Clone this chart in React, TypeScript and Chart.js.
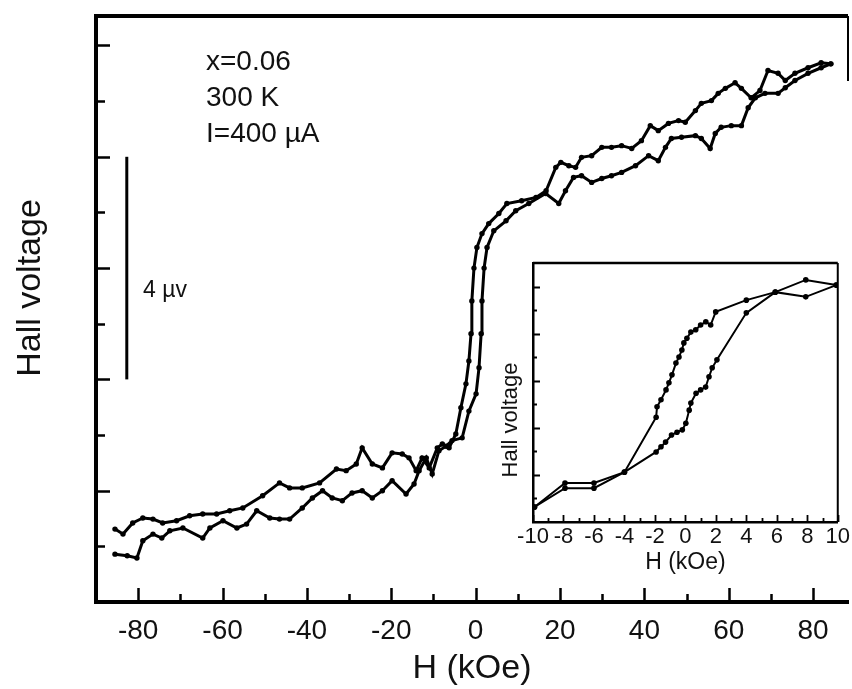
import React, { useEffect, useRef } from 'react';
import { Chart, registerables } from 'chart.js';
Chart.register(...registerables);

const FONT = "'Liberation Sans', Arial, Helvetica, sans-serif";
const INK = '#111';

// ---------- main panel data (H in kOe, Hall voltage in arbitrary units) ----------
const DESC_H = [-85.5, -83.6, -81.3, -78.9, -76.5, -74.2, -70.9, -67.8, -64.7, -61.4, -58.3, -55.2, -50.5, -46.5, -44.1, -41.1, -37.0, -33.0, -30.7, -28.3, -26.9, -24.5, -22.1, -19.8, -17.4, -15.8, -14.1, -12.7, -11.0, -9.1, -7.9, -6.3, -4.7, -3.5, -2.3, -1.6, -1.1, -0.9, -0.4, 0.3, 1.5, 3.1, 5.5, 7.4, 10.9, 14.3, 16.7, 19.0, 20.2, 22.1, 23.7, 25.1, 27.5, 29.9, 32.2, 34.6, 37.0, 39.3, 41.4, 43.3, 45.7, 48.1, 49.7, 52.1, 53.5, 55.9, 57.5, 59.2, 61.5, 63.0, 65.3, 67.4, 69.3, 71.7, 73.4, 75.7, 78.8, 81.9, 84.2];
const DESC_V = [1.31, 1.22, 1.42, 1.51, 1.49, 1.42, 1.46, 1.55, 1.58, 1.58, 1.64, 1.69, 1.91, 2.14, 2.05, 2.05, 2.14, 2.39, 2.36, 2.48, 2.77, 2.48, 2.41, 2.68, 2.66, 2.59, 2.36, 2.59, 2.41, 2.77, 2.84, 2.77, 3.02, 3.49, 3.92, 4.33, 4.82, 5.41, 6.0, 6.37, 6.62, 6.8, 6.98, 7.16, 7.21, 7.27, 7.39, 7.81, 7.9, 7.84, 7.81, 7.99, 8.02, 8.17, 8.17, 8.2, 8.15, 8.29, 8.56, 8.47, 8.6, 8.65, 8.62, 8.83, 8.96, 9.01, 9.14, 9.23, 9.33, 9.23, 9.06, 9.19, 9.55, 9.5, 9.37, 9.5, 9.6, 9.69, 9.67];
const ASC_H = [-85.5, -82.6, -80.3, -78.9, -76.5, -74.4, -72.5, -69.4, -64.7, -63.0, -59.9, -56.6, -54.3, -51.9, -48.8, -46.5, -44.1, -41.1, -38.7, -36.3, -34.0, -31.6, -29.3, -26.9, -24.5, -22.1, -19.8, -16.5, -14.6, -13.4, -11.7, -10.3, -8.7, -7.0, -5.6, -3.2, -1.6, 0.1, 0.8, 1.3, 1.5, 2.0, 2.7, 4.3, 7.2, 9.5, 12.6, 16.6, 19.7, 21.3, 23.2, 25.1, 27.5, 29.9, 32.2, 34.6, 37.9, 41.0, 43.3, 45.0, 46.4, 48.8, 52.1, 53.5, 55.6, 56.8, 58.2, 60.6, 63.0, 64.6, 66.3, 68.6, 71.7, 73.4, 75.7, 78.8, 81.9, 84.2];
const ASC_V = [0.86, 0.83, 0.79, 1.1, 1.22, 1.15, 1.28, 1.33, 1.15, 1.33, 1.46, 1.33, 1.4, 1.64, 1.51, 1.49, 1.49, 1.69, 1.87, 2.0, 1.87, 1.82, 1.96, 2.0, 1.87, 2.0, 2.18, 1.94, 2.12, 2.36, 2.59, 2.3, 2.72, 2.8, 2.9, 2.95, 3.43, 3.74, 4.21, 4.82, 5.41, 6.0, 6.37, 6.67, 6.85, 7.03, 7.16, 7.34, 7.16, 7.39, 7.63, 7.66, 7.54, 7.61, 7.66, 7.72, 7.84, 8.02, 7.93, 8.17, 8.33, 8.35, 8.38, 8.33, 8.15, 8.42, 8.53, 8.56, 8.56, 8.88, 9.06, 9.14, 9.14, 9.24, 9.37, 9.5, 9.6, 9.67];

const X_TICKS = [-80, -60, -40, -20, 0, 20, 40, 60, 80];
const X_MINOR = [-70, -50, -30, -10, 10, 30, 50, 70];
const Y_MAJOR = [2, 4, 6, 8, 10];
const Y_MINOR = [1, 3, 5, 7, 9];
const SCALE_BAR_H = -82.7;
const SCALE_BAR_FROM = 4;
const SCALE_BAR_TO = 8;
const SCALE_LABEL = '4 \u00b5v';
const ANNOT = ['x=0.06', '300 K', 'I=400 \u00b5A'];

// ---------- inset data ----------
const IN_UP_H = [-9.9, -7.9, -6.0, -4.0, -1.92, -1.86, -1.6, -1.27, -1.08, -0.88, -0.62, -0.42, -0.23, -0.1, 0.1, 0.36, 0.68, 1.0, 1.34, 1.66, 1.99, 4.0, 5.9, 7.9, 9.9];
const IN_UP_V = [0.32, 0.83, 0.83, 1.06, 2.23, 2.45, 2.6, 2.81, 2.96, 3.13, 3.38, 3.51, 3.66, 3.81, 3.91, 4.04, 4.09, 4.19, 4.26, 4.19, 4.47, 4.72, 4.89, 5.15, 5.04];
const IN_LO_H = [-9.9, -7.9, -6.0, -4.0, -1.92, -1.6, -1.3, -0.91, -0.55, -0.2, 0.03, 0.25, 0.36, 0.7, 1.0, 1.33, 1.55, 1.76, 2.07, 4.0, 5.9, 7.9, 9.9];
const IN_LO_V = [0.32, 0.72, 0.72, 1.06, 1.49, 1.6, 1.7, 1.85, 1.91, 1.96, 2.1, 2.38, 2.53, 2.74, 2.81, 2.87, 3.09, 3.28, 3.45, 4.45, 4.89, 4.79, 5.04];
const IN_X_TICKS = [-10, -8, -6, -4, -2, 0, 2, 4, 6, 8, 10];
const IN_X_MINOR = [-9, -7, -5, -3, -1, 1, 3, 5, 7, 9];
const IN_Y_MAJOR = [1, 2, 3, 4, 5];
const IN_Y_MINOR = [0.5, 1.5, 2.5, 3.5, 4.5];

const pts = (hs: number[], vs: number[]) => hs.map((h, i) => ({ x: h, y: vs[i] }));

function inwardTicks(o: any) {
  return {
    id: 'inwardTicks',
    afterDraw(chart: any) {
      const { ctx, chartArea: a, scales } = chart;
      const x = scales.x, y = scales.y;
      ctx.save();
      ctx.strokeStyle = '#000';
      ctx.lineWidth = o.lw;
      ctx.beginPath();
      const hx = (vals: number[], len: number) => vals.forEach(v => {
        const p = Math.round(x.getPixelForValue(v)) + 0.5;
        ctx.moveTo(p, a.bottom); ctx.lineTo(p, a.bottom - len);
      });
      const vy = (vals: number[], len: number) => vals.forEach(v => {
        const p = Math.round(y.getPixelForValue(v)) + 0.5;
        ctx.moveTo(a.left, p); ctx.lineTo(a.left + len, p);
      });
      hx(o.xMajor, o.majorX); hx(o.xMinor, o.minorX);
      vy(o.yMajor, o.majorY); vy(o.yMinor, o.minorY);
      ctx.stroke();
      ctx.lineWidth = o.topW;
      ctx.beginPath();
      ctx.moveTo(a.left, a.top); ctx.lineTo(a.right, a.top);
      ctx.stroke();
      ctx.lineWidth = o.rightW;
      ctx.beginPath();
      ctx.moveTo(a.right, a.top); ctx.lineTo(a.right, a.top + o.rightLen);
      ctx.stroke();
      ctx.restore();
    },
  };
}

const mainDecor = {
  id: 'mainDecor',
  afterDraw(chart: any) {
    const { ctx, scales } = chart;
    const x = scales.x, y = scales.y;
    ctx.save();
    ctx.fillStyle = INK;
    ctx.font = `34px ${FONT}`;
    ctx.save();
    ctx.translate(40, 288);
    ctx.rotate(-Math.PI / 2);
    ctx.textAlign = 'center';
    ctx.textBaseline = 'alphabetic';
    ctx.fillText('Hall voltage', 0, 0);
    ctx.restore();
    const bx = x.getPixelForValue(SCALE_BAR_H);
    ctx.strokeStyle = '#000';
    ctx.lineWidth = 3;
    ctx.beginPath();
    ctx.moveTo(bx, y.getPixelForValue(SCALE_BAR_TO));
    ctx.lineTo(bx, y.getPixelForValue(SCALE_BAR_FROM));
    ctx.stroke();
    ctx.font = `23px ${FONT}`;
    ctx.textAlign = 'left';
    ctx.textBaseline = 'alphabetic';
    ctx.fillText(SCALE_LABEL, 143, 297);
    ctx.font = `28px ${FONT}`;
    ANNOT.forEach((t, i) => ctx.fillText(t, 206, 70 + i * 36));
    ctx.restore();
  },
};

const insetDecor = {
  id: 'insetDecor',
  beforeDraw(chart: any) {
    const { ctx, chartArea: a } = chart;
    ctx.save();
    ctx.fillStyle = '#fff';
    ctx.fillRect(a.left, a.top, a.right - a.left, a.bottom - a.top);
    ctx.restore();
  },
  afterDraw(chart: any) {
    const { ctx } = chart;
    ctx.save();
    ctx.fillStyle = INK;
    ctx.font = `22px ${FONT}`;
    ctx.translate(27, 170);
    ctx.rotate(-Math.PI / 2);
    ctx.textAlign = 'center';
    ctx.textBaseline = 'alphabetic';
    ctx.fillText('Hall voltage', 0, 0);
    ctx.restore();
  },
};

function MainChart() {
  const ref = useRef<HTMLCanvasElement>(null);
  useEffect(() => {
    const line = (data: any) => ({
      data,
      showLine: true,
      borderColor: '#000',
      borderWidth: 3,
      pointRadius: 2.7,
      pointBorderWidth: 0,
      pointBackgroundColor: '#000',
      tension: 0,
    });
    const chart = new Chart(ref.current!, {
      type: 'scatter',
      data: { datasets: [line(pts(DESC_H, DESC_V)), line(pts(ASC_H, ASC_V))] as any },
      options: {
        animation: false,
        responsive: false,
        devicePixelRatio: 1,
        layout: { padding: { top: 16, right: 2, left: 0, bottom: 0 } },
        plugins: { legend: { display: false }, tooltip: { enabled: false } },
        scales: {
          x: {
            type: 'linear',
            min: -90,
            max: 88.27,
            grid: { display: false, drawTicks: false },
            border: { display: true, color: '#000', width: 4 },
            ticks: {
              autoSkip: false, maxRotation: 0, minRotation: 0,
              color: INK, padding: 12,
              font: { family: FONT, size: 28, lineHeight: 1.2 },
              callback: (v: any) => String(v),
            },
            afterBuildTicks: (s: any) => { s.ticks = X_TICKS.map(v => ({ value: v })); },
            afterFit: (s: any) => { s.height = 87; },
            title: {
              display: true, text: 'H (kOe)', color: INK,
              font: { family: FONT, size: 34, lineHeight: 1.2 },
              padding: { top: 0, bottom: 0 },
            },
          },
          y: {
            type: 'linear',
            min: 0,
            max: 10.53,
            grid: { display: false, drawTicks: false },
            border: { display: true, color: '#000', width: 4 },
            ticks: { display: false },
            afterFit: (s: any) => { s.width = 96; },
          },
        },
      } as any,
      plugins: [
        inwardTicks({ lw: 2.5, xMajor: X_TICKS, xMinor: X_MINOR, yMajor: Y_MAJOR, yMinor: Y_MINOR, majorX: 14, minorX: 8, majorY: 14, minorY: 9, topW: 4, rightW: 2, rightLen: 65 }),
        mainDecor,
      ],
    });
    return () => chart.destroy();
  }, []);
  return <canvas ref={ref} width={852} height={689} style={{ position: 'absolute', left: 0, top: 0, display: 'block' }} />;
}

function InsetChart() {
  const ref = useRef<HTMLCanvasElement>(null);
  useEffect(() => {
    const line = (data: any) => ({
      data,
      showLine: true,
      borderColor: '#000',
      borderWidth: 2,
      pointRadius: 2.8,
      pointBorderWidth: 0,
      pointBackgroundColor: '#000',
      tension: 0,
    });
    const chart = new Chart(ref.current!, {
      type: 'scatter',
      data: { datasets: [line(pts(IN_UP_H, IN_UP_V)), line(pts(IN_LO_H, IN_LO_V))] as any },
      options: {
        animation: false,
        responsive: false,
        devicePixelRatio: 1,
        layout: { padding: { top: 13, right: 12, left: 0, bottom: 0 } },
        plugins: { legend: { display: false }, tooltip: { enabled: false } },
        scales: {
          x: {
            type: 'linear',
            min: -10,
            max: 10,
            grid: { display: false, drawTicks: false },
            border: { display: true, color: '#000', width: 2.5 },
            ticks: {
              autoSkip: false, maxRotation: 0, minRotation: 0,
              color: INK, padding: 2,
              font: { family: FONT, size: 22, lineHeight: 1.2 },
              callback: (v: any) => String(v),
            },
            afterBuildTicks: (s: any) => { s.ticks = IN_X_TICKS.map(v => ({ value: v })); },
            afterFit: (s: any) => { s.height = 63; },
            title: {
              display: true, text: 'H (kOe)', color: INK,
              font: { family: FONT, size: 23, lineHeight: 1.2 },
              padding: { top: 0, bottom: 9 },
            },
          },
          y: {
            type: 'linear',
            min: 0,
            max: 5.51,
            grid: { display: false, drawTicks: false },
            border: { display: true, color: '#000', width: 2.5 },
            ticks: { display: false },
            afterFit: (s: any) => { s.width = 43; },
          },
        },
      } as any,
      plugins: [
        insetDecor,
        inwardTicks({ lw: 1.8, xMajor: IN_X_TICKS, xMinor: IN_X_MINOR, yMajor: IN_Y_MAJOR, yMinor: IN_Y_MINOR, majorX: 7, minorX: 4, majorY: 7, minorY: 4, topW: 2.5, rightW: 2, rightLen: 259 }),
      ],
    });
    return () => chart.destroy();
  }, []);
  return <canvas ref={ref} width={362} height={335} style={{ position: 'absolute', left: 490, top: 250, display: 'block' }} />;
}

export default function App() {
  return (
    <div style={{ position: 'fixed', left: 0, top: 0, width: 852, height: 689, background: '#fff', overflow: 'hidden' }}>
      <MainChart />
      <InsetChart />
    </div>
  );
}
